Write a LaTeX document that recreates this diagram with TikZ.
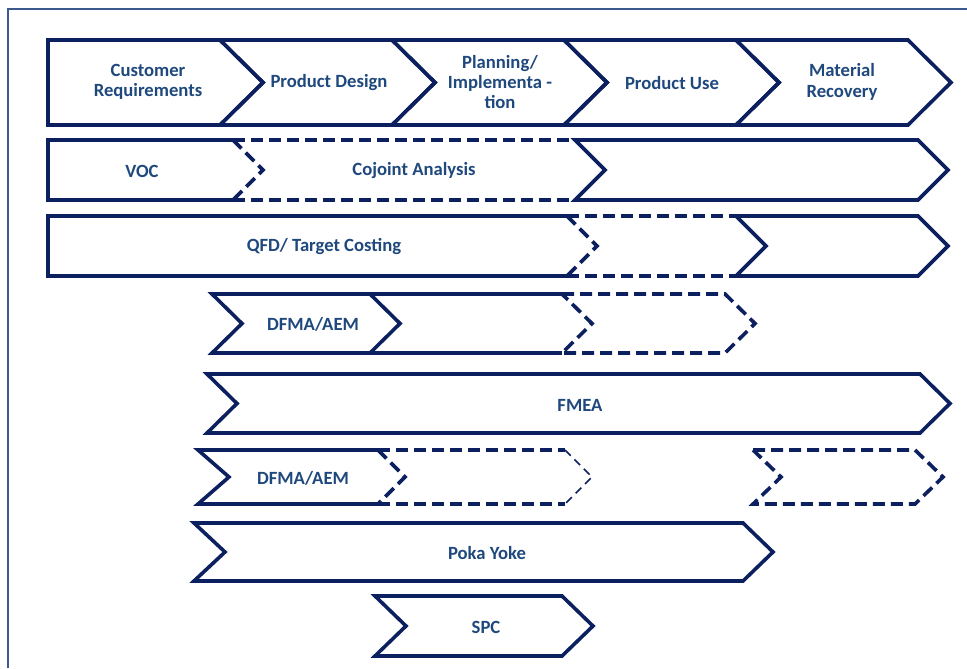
\documentclass[tikz,border=0pt]{standalone}
\usepackage{fontspec}
\setmainfont{Carlito}
\definecolor{navy}{RGB}{12,32,96}
\definecolor{labelblue}{RGB}{31,73,125}
\definecolor{framec}{RGB}{58,90,143}
\begin{document}
\begin{tikzpicture}[x=0.75pt,y=-0.75pt,
  solidline/.style={draw=navy,line width=2.7pt,line join=miter},
  dashline/.style={draw=navy,line width=2.7pt,line join=miter,dash pattern=on 9pt off 4.5pt},
  thindash/.style={draw=navy,line width=1.3pt,dash pattern=on 6pt off 4pt},
  lbl/.style={text=labelblue,font=\bfseries\fontsize{14}{15.2}\selectfont,align=center,inner sep=0pt}]
\useasboundingbox (0,0) rectangle (967,668);
\fill[white] (0,0) rectangle (967,668);
% outer frame
\draw[framec,line width=1.5pt] (8,668) -- (8,9) -- (967,9);

% row 1: life-cycle phases
\draw[solidline] (48,40) -- (220,40) -- (263,82.5) -- (220,125) -- (48,125) -- cycle;
\foreach \x in {220,392,564,736}{
  \draw[solidline] (\x,40) -- (\x+172,40) -- (\x+215,82.5) -- (\x+172,125) -- (\x,125) -- (\x+43,82.5) -- cycle;
}
\node[lbl] (cr) at (148,82) {Customer\\Requirements};
\node[lbl] (pd) at (329,83) {Product Design};
\node[lbl] (pi) at (500,82) {Planning/\\Implementa -\\tion};
\node[lbl] (pu) at (672,83) {Product Use};
\node[lbl] (mr) at (842,82) {Material\\Recovery};

% row 2: VOC / Cojoint Analysis
\draw[solidline] (233,140) -- (48,140) -- (48,200) -- (233,200);
\draw[dashline] (233,140) -- (575,140);
\draw[dashline] (233,200) -- (575,200);
\draw[dashline] (233,140) -- (263,170) -- (233,200);
\draw[solidline] (575,140) -- (918,140) -- (948,170) -- (918,200) -- (575,200) -- (605,170) -- cycle;
\node[lbl] (voc) at (142,171) {VOC};
\node[lbl] (ca) at (414,171) {Cojoint Analysis};

% row 3: QFD / Target Costing
\draw[solidline] (567,216) -- (48,216) -- (48,276) -- (567,276);
\draw[dashline] (567,216) -- (736,216);
\draw[dashline] (567,276) -- (736,276);
\draw[dashline] (567,216) -- (597,246) -- (567,276);
\draw[solidline] (736,216) -- (918,216) -- (948,246) -- (918,276) -- (736,276) -- (766,246) -- cycle;
\node[lbl] (qfd) at (324,247) {QFD/ Target Costing};

% row 4: DFMA/AEM
\draw[solidline] (212,294) -- (370,294) -- (400,323.5) -- (370,353) -- (212,353) -- (242,323.5) -- cycle;
\draw[solidline] (370,294) -- (562,294);
\draw[solidline] (370,353) -- (562,353);
\draw[dashline] (562,294) -- (725,294) -- (755,323.5) -- (725,353) -- (562,353) -- (592,323.5) -- cycle;
\node[lbl] (dfa) at (313,324) {DFMA/AEM};

% row 5: FMEA
\draw[solidline] (207,374) -- (920,374) -- (950,403.5) -- (920,433) -- (207,433) -- (237,403.5) -- cycle;
\node[lbl] (fmea) at (580,405) {FMEA};

% row 6: DFMA/AEM
\draw[solidline] (378,450) -- (198,450) -- (229,477) -- (198,504) -- (378,504);
\draw[dashline] (378,450) -- (405,477) -- (378,504);
\draw[dashline] (378,450) -- (565,450);
\draw[dashline] (378,504) -- (565,504);
\draw[thindash] (565,450) -- (592,477) -- (565,504);
\draw[dashline] (753,450) -- (915,450) -- (943,477) -- (915,504) -- (753,504) -- (781,477) -- cycle;
\node[lbl] (dfb) at (303,478) {DFMA/AEM};

% row 7: Poka Yoke
\draw[solidline] (194,523) -- (743,523) -- (773,552) -- (743,581) -- (194,581) -- (225,552) -- cycle;
\node[lbl] (py) at (487,553) {Poka Yoke};

% row 8: SPC
\draw[solidline] (375,596) -- (562,596) -- (593,626) -- (562,656) -- (375,656) -- (406,626) -- cycle;
\node[lbl] (spc) at (486,627) {SPC};
\end{tikzpicture}
\end{document}
